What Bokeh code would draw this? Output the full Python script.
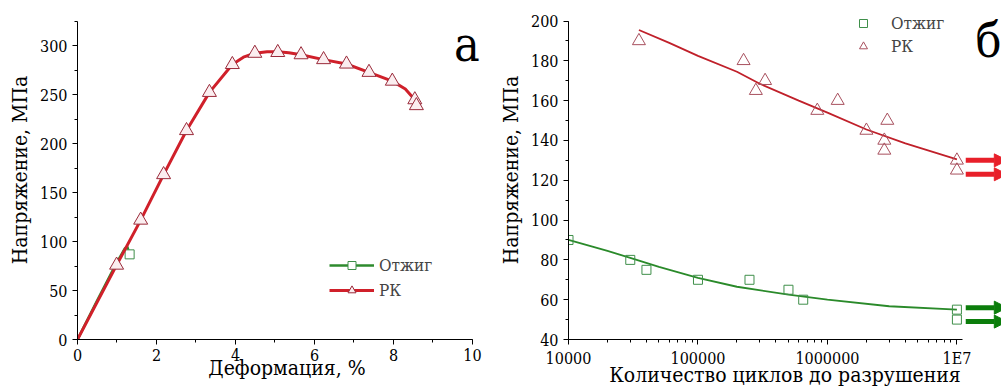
from bokeh.plotting import figure
from bokeh.layouts import row
from bokeh.models import (SingleIntervalTicker, FixedTicker, Legend, LegendItem,
                          Label, Arrow, NormalHead)
from bokeh.embed import file_html
from bokeh.resources import INLINE

FONT = "DejaVu Serif Condensed"

# ---------------- panel "а": stress-strain ----------------
rk_strain = [0.0, 0.99, 1.60, 2.18, 2.76, 3.34, 3.92, 4.20, 4.49, 4.80, 5.07, 5.35,
             5.66, 6.23, 6.81, 7.38, 7.97, 8.30, 8.54, 8.58]
rk_stress = [0, 76, 122, 168.5, 213.5, 252.5, 281, 288.5, 292.5, 294, 294, 293,
             291, 286, 281.5, 273, 264, 256, 245, 239]
rk_mark_strain = [0.99, 1.60, 2.18, 2.76, 3.34, 3.92, 4.49, 5.07, 5.66, 6.23, 6.81,
                  7.38, 7.97, 8.54, 8.58]
rk_mark_stress = [76, 122, 168.5, 213.5, 252.5, 281, 292.5, 293.3, 291, 286, 281.5,
                  273, 264, 245, 239]
ann_strain = [0.0, 0.5, 1.0, 1.2, 1.26, 1.32]
ann_stress = [0, 40, 79, 93, 95, 87]
ann_mark_strain = [1.32]
ann_mark_stress = [87]

# ---------------- panel "б": fatigue (S-N) ----------------
ann_N = [1e4, 3e4, 4e4, 1e5, 2.5e5, 5e5, 6.5e5, 1e7, 1e7]
ann_S = [90, 80, 75, 70, 70, 65, 60, 55, 50]
rk_N = [3.5e4, 2.25e5, 2.8e5, 3.3e5, 8.35e5, 1.2e6, 2e6, 2.75e6, 2.75e6, 2.9e6, 1e7, 1e7]
rk_S = [190, 180, 165, 170, 155, 160, 145, 140, 135, 150, 130, 125]
ann_fit_N = [1e4, 2e4, 3e4, 5e4, 1e5, 2e5, 5e5, 1e6, 3e6, 1e7]
ann_fit_S = [90, 84.5, 81, 76.5, 71, 66.5, 62.5, 60, 56.7, 55]
rk_fit_N = [3.5e4, 6e4, 1e5, 2e5, 3e5, 6e5, 1e6, 2e6, 4e6, 1e7]
rk_fit_S = [195.5, 189, 182.5, 174.5, 168.5, 160, 154, 145.5, 138.5, 130.5]
runout_rk = [130, 123]
runout_ann = [56, 49]
x_major = [1e4, 1e5, 1e6, 1e7]
x_major_labels = ["10000", "100000", "1000000", "1E7"]
x_minor = [m * d for d in (1e4, 1e5, 1e6) for m in range(2, 10)]

RED = "#d0202a"
DARKRED = "#9a2a3a"
GREEN = "#2e8b2e"
SQGREEN = "#3f8f4a"
TRI_B = "#a8505e"
ARROW_RED = "#e8202a"
ARROW_GREEN = "#0b7d0b"


def style(p):
    p.outline_line_color = None
    p.grid.visible = False
    p.background_fill_color = "white"
    p.border_fill_color = "white"
    for ax in (p.xaxis[0], p.yaxis[0]):
        ax.axis_line_color = "black"
        ax.axis_line_width = 1
        ax.major_tick_line_color = "black"
        ax.minor_tick_line_color = "black"
        ax.major_tick_out = 5
        ax.major_tick_in = 0
        ax.minor_tick_out = 3
        ax.minor_tick_in = 0
        ax.major_label_text_font = FONT
        ax.major_label_text_font_size = "16px"
        ax.major_label_text_color = "black"
        ax.axis_label_text_font = FONT
        ax.axis_label_text_font_size = "21px"
        ax.axis_label_text_font_style = "normal"
        ax.axis_label_text_color = "black"
    p.xaxis[0].major_label_standoff = 4
    p.xaxis[0].axis_label_standoff = -8
    p.yaxis[0].major_label_standoff = 5
    p.yaxis[0].axis_label_standoff = 5


# ---------- figure a ----------
p1 = figure(width=496, height=389, x_range=(0, 10.608), y_range=(0, 346.4),
            output_backend="svg", toolbar_location=None,
            min_border_left=77, min_border_right=0, min_border_top=0,
            min_border_bottom=49)
style(p1)
p1.xaxis[0].ticker = SingleIntervalTicker(interval=2, num_minor_ticks=2)
p1.yaxis[0].ticker = SingleIntervalTicker(interval=50, num_minor_ticks=2)
p1.xaxis[0].bounds = (0, 10)
p1.yaxis[0].bounds = (0, 325)
p1.yaxis[0].axis_label = "Напряжение, МПа"
p1.xaxis[0].axis_label = "Деформация, %"

g_line = p1.line(ann_strain, ann_stress, line_color=GREEN, line_width=2.5)
g_mark = p1.scatter(ann_mark_strain, ann_mark_stress, marker="square", size=9,
                    line_color=SQGREEN, fill_color="white", line_width=1)
r_line = p1.line(rk_strain, rk_stress, line_color=RED, line_width=3)
r_mark = p1.scatter(rk_mark_strain, rk_mark_stress, marker="triangle", size=14,
                    line_color=DARKRED, fill_color="#fbeef0", line_width=1)

leg1 = Legend(items=[LegendItem(label="Отжиг", renderers=[g_line, g_mark]),
                     LegendItem(label="РК", renderers=[r_line, r_mark])],
              location=(252, 39), orientation="vertical",
              glyph_width=45, glyph_height=20, label_standoff=5, spacing=5,
              padding=0, margin=0, border_line_color=None,
              background_fill_alpha=0, label_text_font=FONT,
              label_text_font_size="17px", label_height=20)
p1.add_layout(leg1)

p1.add_layout(Label(x=9.53, y=330.7, text="а", text_font=FONT,
                    text_font_size="48px", text_align="left",
                    text_baseline="top", text_color="black"))

# ---------- figure b ----------
p2 = figure(width=505, height=389, x_axis_type="log", x_range=(1e4, 2.21e7),
            y_range=(40, 210.3), output_backend="svg", toolbar_location=None,
            min_border_left=70, min_border_right=0, min_border_top=0,
            min_border_bottom=49)
style(p2)
p2.xaxis[0].ticker = FixedTicker(ticks=x_major, minor_ticks=x_minor)
p2.xaxis[0].major_label_overrides = {t: s for t, s in zip(x_major, x_major_labels)}
p2.yaxis[0].ticker = SingleIntervalTicker(interval=20, num_minor_ticks=2)
p2.xaxis[0].bounds = (1e4, 1.11e7)
p2.yaxis[0].bounds = (40, 200)
p2.yaxis[0].axis_label = "Напряжение, МПа"
p2.xaxis[0].axis_label = "Количество циклов до разрушения"

p2.line(rk_fit_N, rk_fit_S, line_color="#c0202a", line_width=1.8)
p2.line(ann_fit_N, ann_fit_S, line_color="#2a8a2a", line_width=1.8)
sq = p2.scatter(ann_N, ann_S, marker="square", size=9, line_color=SQGREEN,
                fill_color=None, line_width=1)
tr = p2.scatter(rk_N, rk_S, marker="triangle", size=13, line_color=TRI_B,
                fill_color=None, line_width=1)

leg2 = Legend(items=[LegendItem(label="Отжиг", renderers=[sq]),
                     LegendItem(label="РК", renderers=[tr])],
              location=(285, 283), orientation="vertical",
              glyph_width=20, glyph_height=20, label_standoff=18, spacing=3,
              padding=0, margin=0, border_line_color=None,
              background_fill_alpha=0, label_text_font=FONT,
              label_text_font_size="17px", label_height=20)
p2.add_layout(leg2)

for levels, col in ((runout_rk, ARROW_RED), (runout_ann, ARROW_GREEN)):
    for yv in levels:
        p2.add_layout(Arrow(x_start=1.17e7, y_start=yv, x_end=2.45e7, y_end=yv,
                            line_color=col, line_width=5,
                            end=NormalHead(size=13, fill_color=col, line_color=col)))

p2.add_layout(Label(x=1.39e7, y=204.3, text="б", text_font=FONT,
                    text_font_size="48px", text_align="left",
                    text_baseline="top", text_color="black"))

layout = row(p1, p2, spacing=0)
open("out.html", "w").write(file_html(layout, INLINE))
